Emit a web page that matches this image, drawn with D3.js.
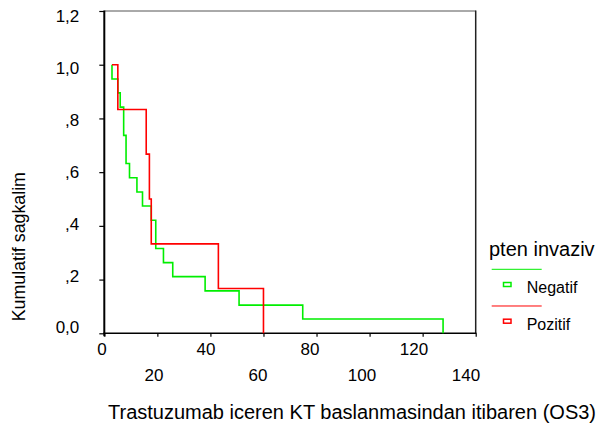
<!DOCTYPE html>
<html>
<head>
<meta charset="utf-8">
<script src="https://cdn.jsdelivr.net/npm/d3@7"></script>
<style>
  body { margin: 0; background: #fff; }
  svg { display: block; font-family: "Liberation Sans", Arial, sans-serif; }
</style>
</head>
<body>
<div id="chart"></div>
<script>
// size of the picture
var w = 598;
var h = 440;

// survival data (time, cumulative survival after the step)
var startTime = 2.9;
var negTimes = [2.9, 5.1, 6.0, 7.3, 8.2, 9.5, 12.3, 14.4, 17.7, 19.4, 22.3, 25.8, 38.0, 50.8, 74.8, 127.7];
var negSurv  = [0.947, 0.895, 0.842, 0.737, 0.632, 0.579, 0.526, 0.474, 0.421, 0.316, 0.263, 0.211, 0.158, 0.105, 0.053, 0];
var posTimes = [5.1, 15.8, 17.0, 17.7, 43.0, 60.0];
var posSurv  = [0.833, 0.667, 0.5, 0.333, 0.167, 0];

var groups = ["Negatif", "Pozitif"];
var groupColors = ["#00ee00", "#ff0000"];

var xTicks = [0, 20, 40, 60, 80, 100, 120, 140];
var yTicks = [0, 0.2, 0.4, 0.6, 0.8, 1.0, 1.2];

var legendTitle = "pten invaziv";
var xTitle = "Trastuzumab iceren KT baslanmasindan itibaren (OS3)";
var yTitle = "Kumulatif sagkalim";

// scales
var x = d3.scaleLinear().domain([0, 140]).range([104.3, 475.7]);
var y = d3.scaleLinear().domain([0, 1.2]).range([333.3, 11]);

// labels in the original sit on a slightly tighter grid than the ticks
var xLab = d3.scaleLinear().domain([0, 140]).range([101.5, 465.5]);
var yLab = d3.scaleLinear().domain([0, 1.2]).range([326.7, 15.8]);

var svg = d3.select("#chart")
  .append("svg")
  .attr("width", w)
  .attr("height", h);

// spss style number format: 1,0  ,8  0,0
function fmt(d) {
  var s = d3.format(".1f")(d).replace(".", ",");
  if (d > 0 && d < 1) s = s.slice(1);
  return s;
}

// frame
svg.append("line")
  .attr("x1", x(0)).attr("x2", x(140))
  .attr("y1", y(1.2)).attr("y2", y(1.2))
  .attr("stroke", "#555").attr("stroke-width", 1);
svg.append("line")
  .attr("x1", x(140)).attr("x2", x(140))
  .attr("y1", y(1.2) - 0.5).attr("y2", y(0))
  .attr("stroke", "#222").attr("stroke-width", 1.5);

// y axis
var yAxis = svg.append("g")
  .attr("transform", "translate(" + x(0) + ",0)")
  .call(d3.axisLeft(y).tickValues(yTicks).tickSize(5).tickPadding(20).tickFormat(fmt));
yAxis.select(".domain").remove();
yAxis.selectAll(".tick line").attr("stroke", "#000").attr("stroke-width", 1.2);
yAxis.selectAll(".tick text")
  .attr("font-size", "17px")
  .attr("font-family", "Liberation Sans, Arial, sans-serif")
  .attr("fill", "#000")
  .attr("y", function(d) { return yLab(d) - y(d); })
  .attr("dy", "0.36em");

// x axis
var xAxis = svg.append("g")
  .attr("transform", "translate(0," + y(0) + ")")
  .call(d3.axisBottom(x).tickValues(xTicks).tickSize(3.5).tickFormat(d3.format("d")));
xAxis.select(".domain").remove();
xAxis.selectAll(".tick line").attr("stroke", "#000").attr("stroke-width", 1.2);
xAxis.selectAll(".tick text")
  .attr("font-size", "17px")
  .attr("font-family", "Liberation Sans, Arial, sans-serif")
  .attr("fill", "#000")
  .attr("x", function(d) { return xLab(d) - x(d); })
  .attr("y", function(d, i) { return i % 2 === 0 ? 15.7 : 41.2; })
  .attr("dy", "0.36em");

// axis lines
svg.append("line")
  .attr("x1", x(0)).attr("x2", x(0))
  .attr("y1", y(1.2) - 0.5).attr("y2", y(0) + 3)
  .attr("stroke", "#000").attr("stroke-width", 2);
svg.append("line")
  .attr("x1", x(0) - 1).attr("x2", x(140) + 0.75)
  .attr("y1", y(0)).attr("y2", y(0))
  .attr("stroke", "#000").attr("stroke-width", 1.5);

// survival curves
var line = d3.line()
  .x(function(d) { return x(d[0]); })
  .y(function(d) { return y(d[1]); })
  .curve(d3.curveStepAfter);

function steps(times, surv) {
  var pts = [[startTime, 1]];
  times.forEach(function(t, i) { pts.push([t, surv[i]]); });
  return pts;
}

var curves = [steps(negTimes, negSurv), steps(posTimes, posSurv)];

svg.selectAll(".km")
  .data(curves)
  .enter()
  .append("path")
  .attr("class", "km")
  .attr("d", line)
  .attr("fill", "none")
  .attr("stroke", function(d, i) { return groupColors[i]; })
  .attr("stroke-width", 1.6);

// legend
svg.append("text")
  .attr("x", 489)
  .attr("y", 256)
  .attr("font-size", "20px")
  .attr("fill", "#000")
  .text(legendTitle);

var legend = svg.selectAll(".legend")
  .data(groups)
  .enter().append("g")
  .attr("class", "legend")
  .attr("transform", function(d, i) { return "translate(0," + i * 36.7 + ")"; });

legend.append("line")
  .attr("x1", 491.7).attr("x2", 541.7)
  .attr("y1", 269.3).attr("y2", 269.3)
  .attr("stroke", function(d, i) { return groupColors[i]; })
  .attr("stroke-width", 1);

legend.append("rect")
  .attr("x", 503.5).attr("y", 282.5)
  .attr("width", 7.5).attr("height", 4)
  .attr("fill", "none")
  .attr("stroke", function(d, i) { return groupColors[i]; })
  .attr("stroke-width", 1.5);

legend.append("text")
  .attr("x", 526.7)
  .attr("y", 293)
  .attr("font-size", "16px")
  .attr("fill", "#000")
  .text(function(d) { return d; });

// axis titles
svg.append("text")
  .attr("x", 108)
  .attr("y", 419)
  .attr("font-size", "20px")
  .attr("fill", "#000")
  .text(xTitle);

svg.append("text")
  .attr("transform", "translate(24.5,246.7) rotate(-90)")
  .attr("text-anchor", "middle")
  .attr("font-size", "17.8px")
  .attr("fill", "#000")
  .text(yTitle);
</script>
</body>
</html>
